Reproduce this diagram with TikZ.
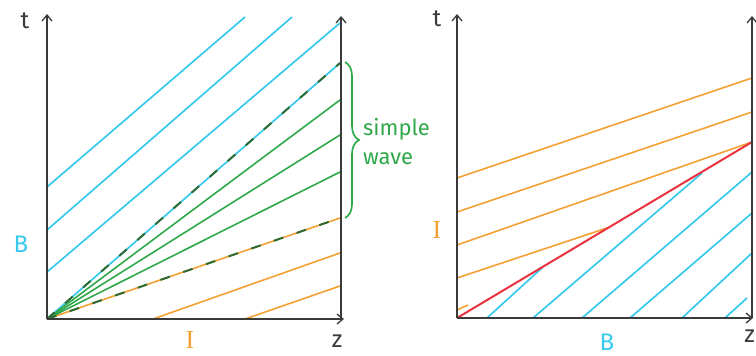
\documentclass[tikz,border=0pt]{standalone}
\usepackage{fontspec}
\setmainfont{Fira Sans}
\newfontfamily\serifI{Liberation Serif}
\usetikzlibrary{arrows.meta,decorations.pathreplacing}
\definecolor{cyanl}{HTML}{38C9EC}
\definecolor{orangel}{HTML}{F5A033}
\definecolor{greenl}{HTML}{2FA84A}
\definecolor{dgreen}{HTML}{2E6A33}
\definecolor{redl}{HTML}{E8333F}
\definecolor{axisc}{HTML}{3A3A3A}
\tikzset{
  axisline/.style={draw=axisc, line width=1.8pt, -{Straight Barb[length=6pt,width=10pt,line width=1.3pt]}},
  cyanline/.style={draw=cyanl, line width=1.7pt},
  orangeline/.style={draw=orangel, line width=1.6pt},
  greenline/.style={draw=greenl, line width=1.6pt},
  dashgreen/.style={draw=dgreen, line width=2pt, dash pattern=on 10pt off 14pt},
  redline/.style={draw=redl, line width=2pt},
  lbl/.style={font=\fontsize{24}{26}\selectfont, inner sep=0pt},
  ilbl/.style={font=\serifI\fontsize{26}{28}\selectfont, inner sep=0pt},
  bracestyle/.style={draw=greenl, line width=1.7pt, decorate,
      decoration={brace, amplitude=14pt, aspect=0.5}},
}
\begin{document}
\begin{tikzpicture}[x=1pt,y=-1pt]
\useasboundingbox (0,0) rectangle (756,356);
% ---------- left panel ----------
\coordinate (O1) at (47,319);
\coordinate (T1) at (47,14);
\coordinate (Z1) at (344,319);
\coordinate (R1b) at (341,319);
\coordinate (R1t) at (341,16);
% cyan
\draw[cyanline] (47,272) -- (340,23);
\draw[cyanline] (47,230) -- (292,17);
\draw[cyanline] (47,187) -- (245,17);
\draw[cyanline] (O1) -- (340,63);
% orange
\draw[orangeline] (O1) -- (340,218);
\draw[orangeline] (153,319) -- (340,253);
\draw[orangeline] (245,319) -- (340,286);
% green fan
\draw[greenline] (O1) -- (340,100);
\draw[greenline] (O1) -- (340,135);
\draw[greenline] (O1) -- (340,172);
\draw[dashgreen] (O1) -- (340,63);
\draw[dashgreen] (O1) -- (340,218);
% axes
\draw[axisline] (O1) -- (T1);
\draw[axisline] (O1) -- (Z1);
\draw[axisline] (R1b) -- (R1t);
% brace
\coordinate (brT) at (345,62);
\coordinate (brB) at (345,218);
\draw[bracestyle] (brT) -- (brB);
\node[text=greenl, anchor=west, align=left, inner sep=0pt, font=\fontsize{22}{29}\selectfont] (sw) at (363,142) {simple\\wave};
\node[lbl, text=axisc] (t1) at (25,21) {t};
\node[lbl, text=axisc] (z1) at (337,341) {z};
\node[lbl, text=cyanl] (B1) at (21,244) {B};
\node[ilbl, text=orangel] (I1) at (190,340) {I};
% ---------- right panel ----------
\coordinate (O2) at (457,318);
\coordinate (T2) at (457,14);
\coordinate (Z2) at (753,318);
\coordinate (R2b) at (752,318);
\coordinate (R2t) at (752,16);
% cyan
\draw[cyanline] (487,318) -- (543,267);
\draw[cyanline] (533,318) -- (702,173);
\draw[cyanline] (582,318) -- (752,172);
\draw[cyanline] (630,318) -- (752,213);
\draw[cyanline] (682,318) -- (752,253);
\draw[cyanline] (725,318) -- (747,298);
% orange
\draw[orangeline] (457,178) -- (752,78);
\draw[orangeline] (457,212) -- (752,112);
\draw[orangeline] (457,245) -- (752,142);
\draw[orangeline] (457,278) -- (607,228);
\draw[orangeline] (457,310) -- (468,305);
% red shock
\draw[redline] (O2) -- (752,142);
% axes
\draw[axisline] (O2) -- (T2);
\draw[axisline] (O2) -- (Z2);
\draw[axisline] (R2b) -- (R2t);
\node[lbl, text=axisc] (t2) at (437,19) {t};
\node[lbl, text=axisc, anchor=east] (z2) at (755,336) {z};
\node[ilbl, text=orangel] (I2) at (437,230) {I};
\node[lbl, text=cyanl] (B2) at (607,342) {B};
\end{tikzpicture}
\end{document}
